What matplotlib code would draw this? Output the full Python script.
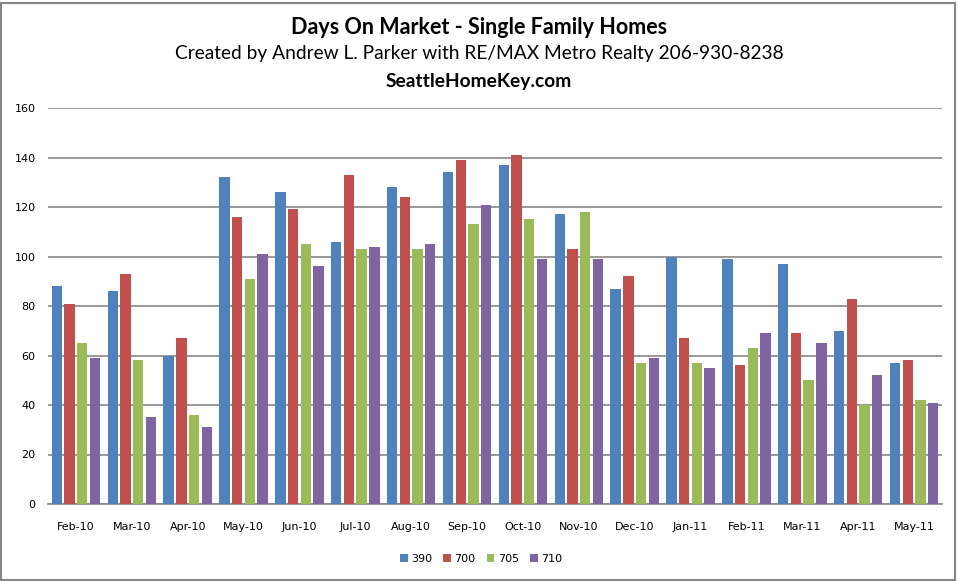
import numpy as np
import matplotlib.pyplot as plt
from matplotlib.patches import Rectangle

months = ["Feb-10", "Mar-10", "Apr-10", "May-10", "Jun-10", "Jul-10", "Aug-10", "Sep-10",
          "Oct-10", "Nov-10", "Dec-10", "Jan-11", "Feb-11", "Mar-11", "Apr-11", "May-11"]

s390 = [88, 86, 60, 132, 126, 106, 128, 134, 137, 117, 87, 100, 99, 97, 70, 57]
s700 = [81, 93, 67, 116, 119, 133, 124, 139, 141, 103, 92, 67, 56, 69, 83, 58]
s705 = [65, 58, 36, 91, 105, 103, 103, 113, 115, 118, 57, 57, 63, 50, 40, 42]
s710 = [59, 35, 31, 101, 96, 104, 105, 121, 99, 99, 59, 55, 69, 65, 52, 41]

series = [("390", s390, "#4F81BD"), ("700", s700, "#C0504D"),
          ("705", s705, "#9BBB59"), ("710", s710, "#8064A2")]

W, H = 958, 581
fig = plt.figure(figsize=(W / 100, H / 100), dpi=100)
ax = fig.add_axes([48 / W, 1 - 504 / H, (942 - 48) / W, (504 - 108) / H])

x = np.arange(len(months))
step = 0.227
width = 0.185
for i, (name, vals, col) in enumerate(series):
    ax.bar(x + (i - 1.5) * step, vals, width=width, color=col, label=name, zorder=3)

ax.set_xlim(-0.5, len(months) - 0.5)
ax.set_ylim(0, 160)
ax.set_yticks(range(0, 161, 20))
ax.set_xticks(x)
ax.set_xticklabels(months)
ax.yaxis.grid(True, color="#868686", linewidth=1.2, zorder=0)
for s in ["top", "right", "left"]:
    ax.spines[s].set_visible(False)
ax.spines["bottom"].set_color("#868686")
ax.spines["bottom"].set_linewidth(1.2)
ax.tick_params(axis="both", length=0, labelsize=8, colors="black")
ax.tick_params(axis="x", pad=13)
ax.tick_params(axis="y", pad=9)

fig.text(0.5, 1 - 27 / H, "Days On Market - Single Family Homes", ha="center", va="center",
         fontsize=15.5, fontweight="bold", family="Lato")
fig.text(0.5, 1 - 54 / H, "Created by Andrew L. Parker with RE/MAX Metro Realty 206-930-8238",
         ha="center", va="center", fontsize=13.8, family="Lato")
fig.text(0.5, 1 - 81 / H, "SeattleHomeKey.com", ha="center", va="center",
         fontsize=13.8, fontweight="bold", family="Lato")

fig.legend(loc="center", bbox_to_anchor=(481 / W, 1 - 559 / H), ncol=4, frameon=False,
           fontsize=8, handlelength=0.7, handleheight=0.7, handletextpad=0.3,
           columnspacing=1.0)

fig.patches.append(Rectangle((1 / W, 1 / H), 954 / W, 577 / H, transform=fig.transFigure,
                             fill=False, edgecolor="#868686", linewidth=1.5))

fig.savefig("out.png", dpi=100)
